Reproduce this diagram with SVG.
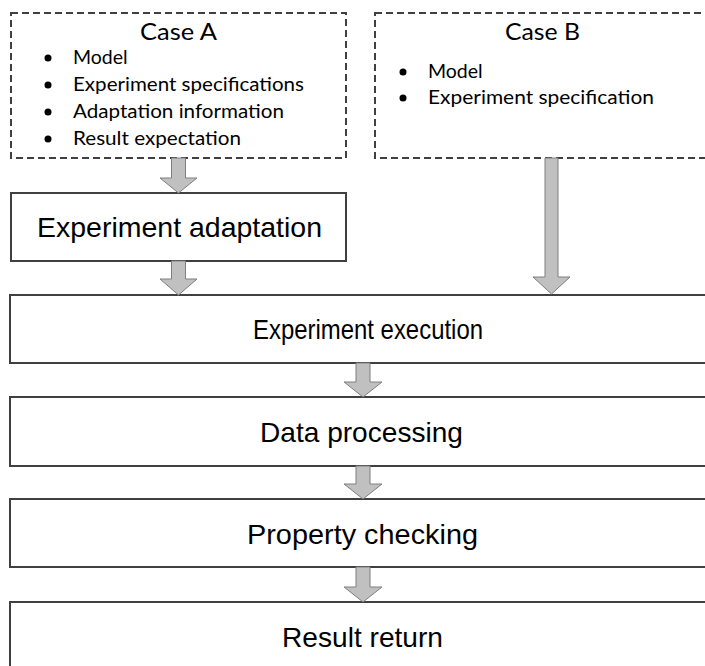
<svg xmlns="http://www.w3.org/2000/svg" width="705" height="666" viewBox="0 0 705 666">
<style>
.case{fill:#fff;stroke:#404040;stroke-width:2;stroke-dasharray:7,4}
.box{fill:#fff;stroke:#404040;stroke-width:2}
.arr{fill:#c0c0c0;stroke:#7f7f7f;stroke-width:1}
.ct{font-family:Lato,"Open Sans",sans-serif;font-size:24px;fill:#000;text-anchor:middle}
.bt{font-family:Lato,"Open Sans",sans-serif;font-size:19.5px;fill:#000}
.lt{font-family:"Liberation Sans",Arial,sans-serif;font-size:28px;fill:#000;text-anchor:middle}
</style>
<rect width="705" height="666" fill="#fff"/>
<g id="caseA">
<rect class="case" x="11" y="13" width="335" height="145"/>
<text class="ct" x="178.5" y="40" textLength="77" lengthAdjust="spacingAndGlyphs">Case A</text>
<circle cx="48" cy="58" r="3.5"/><text class="bt" x="73" y="64">Model</text>
<circle cx="48" cy="85" r="3.5"/><text class="bt" x="73" y="91" textLength="231" lengthAdjust="spacingAndGlyphs">Experiment specifications</text>
<circle cx="48" cy="112" r="3.5"/><text class="bt" x="73" y="118" textLength="211" lengthAdjust="spacingAndGlyphs">Adaptation information</text>
<circle cx="48" cy="139" r="3.5"/><text class="bt" x="73" y="145" textLength="168" lengthAdjust="spacingAndGlyphs">Result expectation</text>
</g>
<g id="caseB">
<rect class="case" x="375" y="13" width="335" height="145"/>
<text class="ct" x="542.5" y="40" textLength="75" lengthAdjust="spacingAndGlyphs">Case B</text>
<circle cx="403" cy="72" r="3.5"/><text class="bt" x="428" y="78">Model</text>
<circle cx="403" cy="98" r="3.5"/><text class="bt" x="428" y="104" textLength="226" lengthAdjust="spacingAndGlyphs">Experiment specification</text>
</g>
<g id="adaptation">
<rect class="box" x="11" y="193" width="335" height="68"/>
<text class="lt" x="179.5" y="237" textLength="285" lengthAdjust="spacingAndGlyphs">Experiment adaptation</text>
</g>
<g id="execution">
<rect class="box" x="10" y="295" width="710" height="68"/>
<text class="lt" x="368" y="339" textLength="230" lengthAdjust="spacingAndGlyphs">Experiment execution</text>
</g>
<g id="processing">
<rect class="box" x="10" y="397" width="710" height="69"/>
<text class="lt" x="361.5" y="442" textLength="203" lengthAdjust="spacingAndGlyphs">Data processing</text>
</g>
<g id="checking">
<rect class="box" x="10" y="499" width="710" height="68"/>
<text class="lt" x="362.5" y="544" textLength="231" lengthAdjust="spacingAndGlyphs">Property checking</text>
</g>
<g id="return">
<rect class="box" x="10" y="602" width="710" height="80"/>
<text class="lt" x="362.5" y="647" textLength="161" lengthAdjust="spacingAndGlyphs">Result return</text>
</g>
<g id="connectors">
<path class="arr" d="M171.5,158 H185.5 V178 H197 L178.5,193 L160,178 H171.5 Z"/>
<path class="arr" d="M171.5,261 H185.5 V279 H197 L178.5,295 L160,279 H171.5 Z"/>
<path class="arr" d="M545,158 H558 V277 H570 L551.5,294 L533,277 H545 Z"/>
<path class="arr" d="M356,363 H370 V382 H382 L363,397 L344,382 H356 Z"/>
<path class="arr" d="M356,466 H370 V484 H382 L363,499 L344,484 H356 Z"/>
<path class="arr" d="M356,567 H370 V587 H382 L363,602 L344,587 H356 Z"/>
</g>
</svg>
